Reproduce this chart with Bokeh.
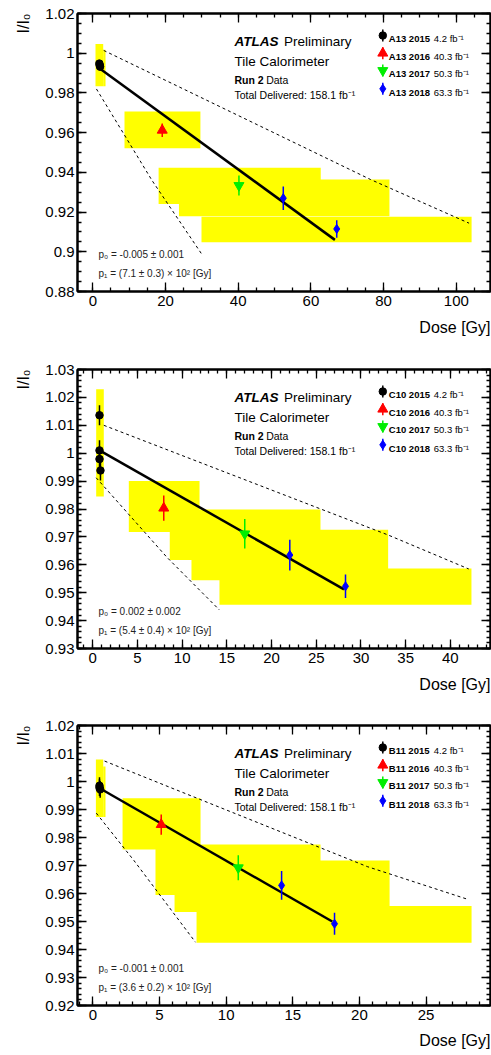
import math
from bokeh.plotting import figure
from bokeh.models import Range1d, FixedTicker, LinearAxis, Label, Title
from bokeh.layouts import column
from bokeh.embed import file_html
from bokeh.resources import INLINE

FONT = "Liberation Sans"

# ---------------- data: A13 ----------------
a13_names = ["A13 2015", "A13 2016", "A13 2017", "A13 2018"]
lumi_labels = ["4.2 fb\u207b\u00b9", "40.3 fb\u207b\u00b9", "50.3 fb\u207b\u00b9", "63.3 fb\u207b\u00b9"]
a13_2015_x = [1.8, 1.9, 2.0]
a13_2015_y = [0.9948, 0.9940, 0.9932]
a13_2015_e = [0.0016, 0.0016, 0.0016]
a13_2016_x = [19.1]
a13_2016_y = [0.9612]
a13_2016_e = [0.0034]
a13_2017_x = [40.2]
a13_2017_y = [0.9334]
a13_2017_e = [0.0050]
a13_2018_x = [52.4, 67.1]
a13_2018_y = [0.9270, 0.9115]
a13_2018_e = [0.0059, 0.0044]
a13_fit_x = [2.0, 66.6]
a13_fit_y = [0.9922, 0.9060]
a13_up_x = [3.0, 76.4, 103.5]
a13_up_y = [1.0014, 0.9364, 0.9144]
a13_lo_x = [1.0, 16.3, 29.9]
a13_lo_y = [0.9820, 0.9359, 0.8990]
a13_box_l = [0.74, 2.86, 8.72, 18.1, 23.7, 29.9]
a13_box_r = [2.86, 3.5, 29.6, 62.7, 81.6, 104.2]
a13_box_b = [0.9834, 0.9834, 0.9521, 0.9241, 0.9179, 0.9048]
a13_box_t = [1.0047, 1.0017, 0.9706, 0.9423, 0.9364, 0.9177]
a13_p0 = "p\u2080 = -0.005 \u00b1  0.001"
a13_p1 = "p\u2081 = (7.1 \u00b1  0.3) \u00d7 10\u00b2 [Gy]"
a13_xticks = [0, 20, 40, 60, 80, 100]
a13_xminor = [5 * i for i in range(0, 22)]
a13_yticks = [0.88, 0.9, 0.92, 0.94, 0.96, 0.98, 1.0, 1.02]
a13_yminor = [round(0.88 + 0.005 * i, 3) for i in range(0, 29)]

# ---------------- data: C10 ----------------
c10_names = ["C10 2015", "C10 2016", "C10 2017", "C10 2018"]
c10_2015_x = [0.75, 0.75, 0.75, 0.86]
c10_2015_y = [1.0136, 1.0010, 0.9979, 0.9938]
c10_2015_e = [0.0036, 0.0036, 0.0036, 0.0036]
c10_2016_x = [7.94]
c10_2016_y = [0.9803]
c10_2016_e = [0.0045]
c10_2017_x = [17.0]
c10_2017_y = [0.9711]
c10_2017_e = [0.0053]
c10_2018_x = [22.04, 28.27]
c10_2018_y = [0.9635, 0.9523]
c10_2018_e = [0.0055, 0.0042]
c10_fit_x = [0.75, 28.1]
c10_fit_y = [1.0010, 0.9512]
c10_up_x = [1.23, 33.1, 42.06]
c10_up_y = [1.0100, 0.9706, 0.9585]
c10_lo_x = [0.38, 8.32, 14.17]
c10_lo_y = [0.9912, 0.9626, 0.9438]
c10_box_l = [0.38, 4.03, 8.61, 11.04, 14.17]
c10_box_r = [1.23, 11.94, 25.47, 33.04, 42.36]
c10_box_b = [0.9845, 0.9718, 0.9617, 0.9545, 0.9457]
c10_box_t = [1.0229, 0.9900, 0.9798, 0.9726, 0.9587]
c10_p0 = "p\u2080 = 0.002 \u00b1  0.002"
c10_p1 = "p\u2081 = (5.4 \u00b1  0.4) \u00d7 10\u00b2 [Gy]"
c10_xticks = [0, 5, 10, 15, 20, 25, 30, 35, 40]
c10_xminor = list(range(-1, 45))
c10_yticks = [0.93, 0.94, 0.95, 0.96, 0.97, 0.98, 0.99, 1.0, 1.01, 1.02, 1.03]
c10_yminor = [round(0.93 + 0.002 * i, 3) for i in range(0, 51)]

# ---------------- data: B11 ----------------
b11_names = ["B11 2015", "B11 2016", "B11 2017", "B11 2018"]
b11_2015_x = [0.50, 0.50, 0.55]
b11_2015_y = [0.9985, 0.9978, 0.9972]
b11_2015_e = [0.0030, 0.0030, 0.0030]
b11_2016_x = [5.13]
b11_2016_y = [0.9846]
b11_2016_e = [0.0036]
b11_2017_x = [10.91]
b11_2017_y = [0.9692]
b11_2017_e = [0.0045]
b11_2018_x = [14.16, 18.13]
b11_2018_y = [0.9629, 0.9492]
b11_2018_e = [0.0051, 0.0039]
b11_fit_x = [0.58, 17.96]
b11_fit_y = [0.9974, 0.9500]
b11_up_x = [0.88, 20.59, 28.2]
b11_up_y = [1.0073, 0.9696, 0.9578]
b11_lo_x = [0.26, 3.08, 7.70]
b11_lo_y = [0.9887, 0.9718, 0.9426]
b11_box_l = [0.23, 0.78, 2.23, 4.70, 6.13, 7.78]
b11_box_r = [0.78, 0.95, 8.08, 17.08, 22.26, 28.41]
b11_box_b = [0.9873, 0.9873, 0.9757, 0.9595, 0.9534, 0.9424]
b11_box_t = [1.0079, 1.0054, 0.9940, 0.9775, 0.9718, 0.9555]
b11_p0 = "p\u2080 = -0.001 \u00b1  0.001"
b11_p1 = "p\u2081 = (3.6 \u00b1  0.2) \u00d7 10\u00b2 [Gy]"
b11_xticks = [0, 5, 10, 15, 20, 25]
b11_xminor = list(range(-1, 30))
b11_yticks = [0.92, 0.93, 0.94, 0.95, 0.96, 0.97, 0.98, 0.99, 1.0, 1.01, 1.02]
b11_yminor = [round(0.92 + 0.002 * i, 3) for i in range(0, 51)]

COLORS = ["black", "#ff0000", "#00ee00", "#0000ff"]
MARKERS = ["circle", "triangle", "inverted_triangle", "diamond"]
MSIZES = [7.5, 10, 10, 9]

FRAME_LEFT_PX = 77
FRAME_W = 413


def fmt(v):
    return ("%g" % v)


def make_panel(cfg):
    xs, xe = cfg["xr"]
    ys, ye = cfg["yr"]
    fh = cfg["fh"]
    p = figure(frame_width=FRAME_W, frame_height=fh,
               x_range=Range1d(xs, xe), y_range=Range1d(ys, ye),
               output_backend="svg", toolbar_location=None,
               min_border_left=FRAME_LEFT_PX, min_border_right=1,
               min_border_top=cfg["bt"], min_border_bottom=cfg["bb"])
    p.grid.visible = False
    p.outline_line_color = "black"
    p.outline_line_width = 2
    p.background_fill_color = "white"
    p.border_fill_color = "white"

    def X(px):  # pixel from frame left -> data
        return xs + px / FRAME_W * (xe - xs)

    def Y(py):  # pixel from frame top -> data
        return ye - py / fh * (ye - ys)

    xt = FixedTicker(ticks=cfg["xticks"], minor_ticks=cfg["xminor"])
    yt = FixedTicker(ticks=cfg["yticks"], minor_ticks=cfg["yminor"])

    ax = p.xaxis[0]
    ax.ticker = xt
    ax.major_label_overrides = {t: fmt(t) for t in cfg["xticks"]}
    ay = p.yaxis[0]
    ay.ticker = yt
    ay.major_label_overrides = {t: fmt(t) for t in cfg["yticks"]}
    for a in (ax, ay):
        a.major_tick_in = 9
        a.major_tick_out = 0
        a.minor_tick_in = 4
        a.minor_tick_out = 0
        a.axis_line_width = 2
        a.major_tick_line_width = 1.3
        a.minor_tick_line_width = 1.3
        a.major_label_text_font = FONT
        a.major_label_text_font_size = "15px"
        a.major_label_text_color = "black"
    ax.major_label_standoff = 4
    ay.major_label_standoff = 3

    for loc, tk in (("above", xt), ("right", yt)):
        ea = LinearAxis(ticker=tk, major_tick_in=9, major_tick_out=0,
                        minor_tick_in=4, minor_tick_out=0,
                        major_label_text_font_size="0px", major_label_standoff=0,
                        axis_line_width=2, major_tick_line_width=1.3,
                        minor_tick_line_width=1.3)
        ea.major_label_overrides = {t: "" for t in tk.ticks}
        p.add_layout(ea, loc)

    # axis titles (ROOT style: right / top aligned)
    p.add_layout(Title(text="Dose [Gy]", align="right", text_font=FONT, text_font_size="16px",
                       text_font_style="normal", text_color="black",
                       standoff=cfg["dose_so"]), "below")
    p.add_layout(Title(text="I/I\u2080", align="right", text_font=FONT, text_font_size="16px",
                       text_font_style="normal", text_color="black", standoff=22), "left")

    # yellow systematic boxes
    p.quad(left=cfg["box_l"], right=cfg["box_r"], bottom=cfg["box_b"], top=cfg["box_t"],
           fill_color="#ffff00", line_color=None)
    # dashed envelopes
    p.line(cfg["up_x"], cfg["up_y"], line_color="black", line_width=1, line_dash="3 3")
    p.line(cfg["lo_x"], cfg["lo_y"], line_color="black", line_width=1, line_dash="3 3")
    # fit
    p.line(cfg["fit_x"], cfg["fit_y"], line_color="black", line_width=2.5)
    # data points with error bars
    for (xv, yv, ev), col, mk, ms in zip(cfg["series"], COLORS, MARKERS, MSIZES):
        p.segment(x0=xv, y0=[y - e for y, e in zip(yv, ev)], x1=xv,
                  y1=[y + e for y, e in zip(yv, ev)], line_color=col, line_width=1.5)
        p.scatter(xv, yv, marker=mk, size=ms, fill_color=col, line_color=col)

    def lab(px, py, text, size, style="normal", align="left", color="black"):
        p.add_layout(Label(x=X(px), y=Y(py), text=text, text_font=FONT,
                           text_font_size=size, text_font_style=style,
                           text_align=align, text_baseline="alphabetic",
                           text_color=color))

    # ATLAS block
    lab(157, 27.7, "ATLAS", "13.5px", "bold italic")
    lab(206.5, 27.7, "Preliminary", "13.5px")
    lab(157, 47.7, "Tile Calorimeter", "13.5px")
    lab(157, 66, "Run 2", "10.5px", "bold")
    lab(188.7, 66, "Data", "10.5px")
    lab(157, 81, "Total Delivered: 158.1 fb\u207b\u00b9", "10.5px")

    # legend
    row_c = [22, 39.7, 57, 75.3]
    for i in range(4):
        cy = row_c[i]
        p.segment(x0=[X(305.3)], y0=[Y(cy - 6)], x1=[X(305.3)], y1=[Y(cy + 6)],
                  line_color=COLORS[i], line_width=1.5)
        p.scatter([X(305.3)], [Y(cy)], marker=MARKERS[i], size=MSIZES[i],
                  fill_color=COLORS[i], line_color=COLORS[i])
        lab(311.3, cy + 3.3, cfg["names"][i], "9.5px", "bold")
        lab(356.3, cy + 3.3, lumi_labels[i], "9.5px")

    # fit parameters
    lab(21, fh - 37, cfg["p0"], "10px", color="#222222")
    lab(21, fh - 18.5, cfg["p1"], "10px", color="#222222")
    return p


p1 = make_panel(dict(xr=(-4.21, 109.4), yr=(0.88, 1.02), fh=278, bt=13, bb=65, dose_so=16,
                     xticks=a13_xticks, xminor=a13_xminor, yticks=a13_yticks, yminor=a13_yminor,
                     box_l=a13_box_l, box_r=a13_box_r, box_b=a13_box_b, box_t=a13_box_t,
                     up_x=a13_up_x, up_y=a13_up_y, lo_x=a13_lo_x, lo_y=a13_lo_y,
                     fit_x=a13_fit_x, fit_y=a13_fit_y,
                     series=[(a13_2015_x, a13_2015_y, a13_2015_e), (a13_2016_x, a13_2016_y, a13_2016_e),
                             (a13_2017_x, a13_2017_y, a13_2017_e), (a13_2018_x, a13_2018_y, a13_2018_e)],
                     names=a13_names, p0=a13_p0, p1=a13_p1))
p2 = make_panel(dict(xr=(-1.71, 44.49), yr=(0.93, 1.03), fh=279, bt=13, bb=64, dose_so=16,
                     xticks=c10_xticks, xminor=c10_xminor, yticks=c10_yticks, yminor=c10_yminor,
                     box_l=c10_box_l, box_r=c10_box_r, box_b=c10_box_b, box_t=c10_box_t,
                     up_x=c10_up_x, up_y=c10_up_y, lo_x=c10_lo_x, lo_y=c10_lo_y,
                     fit_x=c10_fit_x, fit_y=c10_fit_y,
                     series=[(c10_2015_x, c10_2015_y, c10_2015_e), (c10_2016_x, c10_2016_y, c10_2016_e),
                             (c10_2017_x, c10_2017_y, c10_2017_e), (c10_2018_x, c10_2018_y, c10_2018_e)],
                     names=c10_names, p0=c10_p0, p1=c10_p1))
p3 = make_panel(dict(xr=(-1.15, 29.83), yr=(0.92, 1.02), fh=280, bt=13, bb=49, dose_so=14,
                     xticks=b11_xticks, xminor=b11_xminor, yticks=b11_yticks, yminor=b11_yminor,
                     box_l=b11_box_l, box_r=b11_box_r, box_b=b11_box_b, box_t=b11_box_t,
                     up_x=b11_up_x, up_y=b11_up_y, lo_x=b11_lo_x, lo_y=b11_lo_y,
                     fit_x=b11_fit_x, fit_y=b11_fit_y,
                     series=[(b11_2015_x, b11_2015_y, b11_2015_e), (b11_2016_x, b11_2016_y, b11_2016_e),
                             (b11_2017_x, b11_2017_y, b11_2017_e), (b11_2018_x, b11_2018_y, b11_2018_e)],
                     names=b11_names, p0=b11_p0, p1=b11_p1))

layout = column(p1, p2, p3, spacing=0)
open("out.html", "w").write(file_html(layout, INLINE))
